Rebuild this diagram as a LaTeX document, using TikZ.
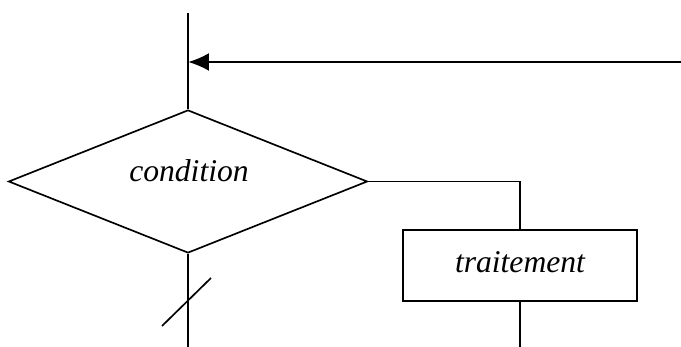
\documentclass[tikz,border=0pt]{standalone}
\usepackage{fontspec}
\setmainfont{Liberation Serif}
\usetikzlibrary{shapes.geometric,arrows.meta}

\tikzset{
  decision/.style={draw, shape=diamond, line width=0.95pt, inner sep=0pt,
    minimum width=7.18cm, minimum height=2.86cm},
  process/.style={draw, rectangle, line width=0.95pt,
    minimum width=4.68cm, minimum height=1.42cm},
  flow/.style={line width=0.95pt},
}

\begin{document}
\begin{tikzpicture}[x=0.02cm, y=-0.02cm]
    \useasboundingbox (0,0) rectangle (681,347);
    % Test:
    \node[decision] (cond) at (188,181.5) {};
    \node[font=\fontsize{18}{20}\selectfont\itshape] (condtxt) at (189,171) {condition};
    % Bloc traitement:
    \node[process] (trait) at (520,265.5) {};
    \node[font=\fontsize{18}{20}\selectfont\itshape] (traittxt) at (520,262) {traitement};
    % Punkte:
    \coordinate (top) at (188,13); % oberes Ende
    \coordinate (join) at (188,62); % Einmuendung
    \coordinate (entry) at (681,62); % Ruecksprung
    \coordinate (outL) at (188,347);
    \coordinate (outR) at (520,347);
    \coordinate (corner) at (trait.north |- cond.east);
    \coordinate (s1) at (162,326); % Strich unten
    \coordinate (s2) at (211,278);
    % Linien:
    \draw[flow] (top) -- (cond.north);
    \draw[line width=1.3pt, -{Latex[length=4.2mm,width=3.6mm]}] (entry) -- (join);
    \draw[flow] (cond.east) -- (corner) -- (trait.north);
    \draw[flow] (cond.south) -- (outL);
    \draw[flow] (trait.south) -- (outR);
    \draw[flow] (s1) -- (s2);
\end{tikzpicture}
\end{document}
